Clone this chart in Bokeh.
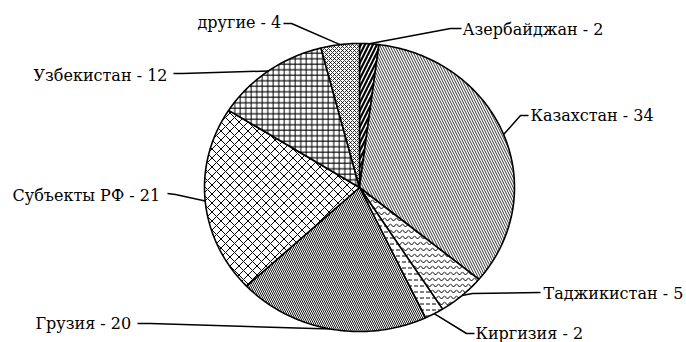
import math
from bokeh.plotting import figure
from bokeh.models import Range1d, ColumnDataSource
from bokeh.core.properties import value
from bokeh.embed import file_html
from bokeh.resources import INLINE

# ---- data ----
countries = ["Азербайджан", "Казахстан", "Таджикистан", "Киргизия",
             "Грузия", "Субъекты РФ", "Узбекистан", "другие"]
shares = [2, 34, 5, 2, 20, 21, 12, 4]
separators = [" - ", " - ", "  - ", " - ", " - ", " - ", " - ", " - "]

# ---- styling / layout ----
hatches = ["/", "\\", "v", '"', "\\", "x", "+", "x"]
hatch_scales = [8, 5, 6, 6, 4, 9, 5.5, 4]
hatch_weights = [2.2, 0.8, 1, 1, 0.9, 1, 1, 0.8]
CX, CY, RX, RY = 359, 187, 155, 144
# text anchor (left, alphabetic baseline), line start near text, elbow
text_pos = [(462, 29), (530, 115), (543, 293), (475, 333),
            (35, 323), (12, 195), (33, 75), (197, 22)]
line_start = [(461, 28), (528, 115), (540, 292), (474, 333),
              (137, 323), (167, 193), (173, 73), (283, 23)]
line_elbow = [(450, 28), (520, 115), (472, 293), (466, 333),
              (150, 323), (175, 194), (182, 73), (291, 23)]

W, H = 686, 342
p = figure(width=W, height=H, output_backend="svg", toolbar_location=None,
           x_range=Range1d(0, W), y_range=Range1d(H, 0),
           min_border=0)
p.axis.visible = False
p.grid.visible = False
p.outline_line_color = None
p.background_fill_color = "white"
p.border_fill_color = "white"

total = sum(shares)
xs, ys, mids = [], [], []
cum = 0
for v in shares:
    a0 = 2 * math.pi * cum / total
    a1 = 2 * math.pi * (cum + v) / total
    n = max(8, int(v * 4))
    px = [CX]
    py = [CY]
    for i in range(n + 1):
        t = a0 + (a1 - a0) * i / n
        px.append(CX + RX * math.sin(t))
        py.append(CY - RY * math.cos(t))
    xs.append(px)
    ys.append(py)
    mids.append((a0 + a1) / 2)
    cum += v

src = ColumnDataSource(dict(xs=xs, ys=ys, hatch=hatches, hs=hatch_scales, hw=hatch_weights))
p.patches("xs", "ys", source=src, fill_color="white", line_color="black", line_width=1.6,
          hatch_pattern="hatch", hatch_scale="hs", hatch_weight="hw", hatch_color="black")

# leader lines
lxs, lys = [], []
for i, m in enumerate(mids):
    ex = CX + RX * math.sin(m)
    ey = CY - RY * math.cos(m)
    lxs.append([line_start[i][0], line_elbow[i][0], ex])
    lys.append([line_start[i][1], line_elbow[i][1], ey])
p.multi_line(lxs, lys, line_color="black", line_width=1.5)

labels = [c + s + str(v) for c, s, v in zip(countries, separators, shares)]
p.text(x=[t[0] for t in text_pos], y=[t[1] for t in text_pos], text=labels,
       text_font=value("DejaVu Serif"), text_font_size="16px",
       text_align="left", text_baseline="alphabetic", text_color="black")

open("out.html", "w").write(file_html(p, INLINE))
